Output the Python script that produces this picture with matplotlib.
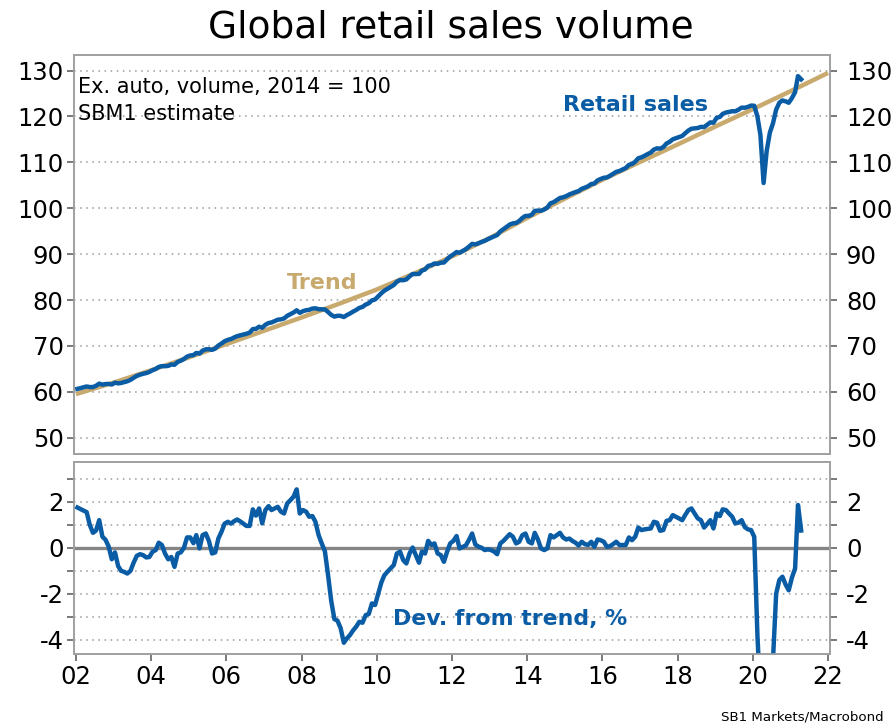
import matplotlib
matplotlib.use('Agg')
import matplotlib.pyplot as plt
import matplotlib.dates as mdates
import numpy as np
import pandas as pd

# ---------------- data ----------------
trend_years = list(range(2002, 2023))
trend_values = [59.5, 62.0, 64.7, 67.5, 70.4, 73.3, 76.2, 79.2, 82.3, 85.8, 89.5,
                93.5, 97.9, 102.1, 106.2, 110.1, 113.9, 117.8, 121.6, 125.5, 129.5]

# monthly, Jan 2002 .. Apr 2021
retail_sales = [
    60.64, 60.81, 60.99, 61.16, 61.04, 61.04, 61.31, 61.79, 61.56, 61.70, 61.72, 61.59,
    61.99, 61.84, 61.93, 62.13, 62.30, 62.61, 63.05, 63.47, 63.73, 63.93, 64.09, 64.33,
    64.71, 64.98, 65.42, 65.60, 65.59, 65.65, 65.96, 65.90, 66.51, 66.78, 67.15, 67.68,
    67.92, 68.00, 68.47, 68.33, 68.97, 69.26, 69.28, 69.14, 69.42, 70.08, 70.53, 71.02,
    71.32, 71.50, 71.82, 72.13, 72.31, 72.48, 72.65, 72.90, 73.67, 73.72, 74.19, 73.96,
    74.62, 74.99, 75.11, 75.42, 75.71, 75.80, 75.99, 76.56, 76.92, 77.28, 77.77, 77.21,
    77.58, 77.78, 77.87, 78.14, 78.20, 78.01, 77.98, 77.96, 77.39, 76.77, 76.39, 76.57,
    76.55, 76.30, 76.70, 77.06, 77.47, 77.85, 78.28, 78.50, 79.01, 79.30, 79.93, 80.12,
    80.80, 81.50, 82.03, 82.45, 82.87, 83.28, 83.99, 84.35, 84.32, 84.49, 85.16, 85.67,
    85.67, 85.70, 86.42, 86.66, 87.44, 87.59, 87.97, 87.89, 88.14, 88.18, 88.88, 89.51,
    89.94, 90.46, 90.30, 90.71, 91.09, 91.65, 92.24, 92.13, 92.38, 92.67, 92.91, 93.26,
    93.59, 93.89, 94.16, 94.96, 95.44, 95.95, 96.45, 96.71, 96.80, 97.23, 97.89, 98.33,
    98.34, 98.62, 99.42, 99.49, 99.45, 99.73, 100.15, 101.08, 101.33, 101.79, 102.24, 102.39,
    102.64, 103.02, 103.26, 103.53, 103.74, 104.25, 104.49, 104.79, 105.28, 105.39, 106.07, 106.38,
    106.64, 106.73, 107.08, 107.51, 107.94, 108.12, 108.44, 108.77, 109.45, 109.65, 110.14, 110.91,
    111.11, 111.45, 111.80, 112.14, 112.78, 113.06, 112.99, 113.34, 114.11, 114.47, 115.03, 115.28,
    115.52, 115.76, 116.34, 116.93, 117.33, 117.41, 117.49, 117.74, 117.69, 118.20, 118.72, 118.63,
    119.72, 119.90, 120.57, 120.86, 121.00, 121.15, 121.13, 121.48, 121.94, 121.90, 122.09, 122.38,
    122.34, 120.0, 116.0, 105.5, 112.5, 116.5, 118.5, 121.5, 123.0, 123.5, 123.3, 123.0,
    124.0, 125.3, 128.8, 128.1]

dev_from_trend = [
    1.75, 1.68, 1.62, 1.55, 1.0, 0.65, 0.75, 1.2, 0.48, 0.35, 0.05, -0.5,
    -0.2, -0.8, -1.0, -1.05, -1.12, -1.0, -0.65, -0.35, -0.28, -0.32, -0.42, -0.4,
    -0.17, -0.1, 0.22, 0.12, -0.25, -0.5, -0.4, -0.83, -0.25, -0.2, 0.0, 0.45,
    0.45, 0.2, 0.55, -0.03, 0.55, 0.62, 0.3, -0.25, -0.2, 0.4, 0.7, 1.05,
    1.13, 1.05, 1.15, 1.23, 1.15, 1.05, 0.95, 0.95, 1.67, 1.4, 1.71, 1.06,
    1.64, 1.81, 1.64, 1.71, 1.78, 1.57, 1.49, 1.93, 2.07, 2.22, 2.54, 1.49,
    1.64, 1.57, 1.35, 1.38, 1.13, 0.55, 0.19, -0.15, -1.2, -2.3, -3.1, -3.17,
    -3.5, -4.13, -3.95, -3.8, -3.6, -3.43, -3.22, -3.26, -2.93, -2.88, -2.42, -2.49,
    -2.0, -1.5, -1.2, -1.04, -0.9, -0.75, -0.25, -0.17, -0.54, -0.68, -0.25, 0.01,
    -0.32, -0.65, -0.17, -0.25, 0.3, 0.12, 0.19, -0.25, -0.32, -0.61, -0.17, 0.19,
    0.3, 0.51, -0.03, 0.04, 0.1, 0.35, 0.62, 0.14, 0.05, 0.0, -0.1, -0.07,
    -0.1, -0.17, -0.28, 0.19, 0.3, 0.45, 0.59, 0.48, 0.19, 0.26, 0.55, 0.62,
    0.26, 0.19, 0.65, 0.36, -0.03, -0.1, -0.03, 0.55, 0.45, 0.55, 0.65, 0.45,
    0.36, 0.4, 0.3, 0.22, 0.1, 0.26, 0.16, 0.12, 0.26, 0.04, 0.36, 0.33,
    0.26, 0.04, 0.07, 0.16, 0.26, 0.12, 0.12, 0.12, 0.45, 0.33, 0.48, 0.88,
    0.77, 0.8, 0.82, 0.84, 1.13, 1.09, 0.74, 0.77, 1.17, 1.2, 1.42, 1.35,
    1.28, 1.2, 1.42, 1.64, 1.71, 1.49, 1.28, 1.2, 0.88, 1.03, 1.2, 0.84,
    1.49, 1.38, 1.67, 1.64, 1.49, 1.35, 1.06, 1.09, 1.2, 0.9, 0.8, 0.77,
    0.48, -3.8, -6.5, -14.0, -9.0, -6.0, -4.9, -2.0, -1.4, -1.26, -1.6, -1.85,
    -1.3, -0.9, 1.86, 0.75]

top_ticks = [50, 60, 70, 80, 90, 100, 110, 120, 130]
bottom_major = [-4, -2, 0, 2]
bottom_minor = [-3, -1, 1, 3]

# ---------------- style ----------------
BLUE = '#0a5ca5'
TAN = '#c8a96e'
GRID = '#9a9a9a'
SPINE = '#a0a0a0'
ZERO = '#858585'

plt.rcParams['font.family'] = ['DejaVu Sans']
plt.rcParams['axes.unicode_minus'] = False

months = pd.date_range('2002-01-01', periods=len(retail_sales), freq='MS') + pd.Timedelta(days=14)
trend_dates = pd.to_datetime([f'{y}-01-01' for y in trend_years])
xlim = (pd.Timestamp('2001-12-13'), pd.Timestamp('2022-01-20'))

fig = plt.figure(figsize=(8.92, 7.24), dpi=100)
W, H = 892, 724
ax1 = fig.add_axes([74 / W, 1 - 454 / H, 756 / W, 399 / H])
ax2 = fig.add_axes([74 / W, 1 - 654 / H, 756 / W, 192 / H])

LBL = 17.5


def style_axis(ax, ylim, major, minor=None):
    ax.set_xlim(*xlim)
    ax.set_ylim(*ylim)
    for s in ax.spines.values():
        s.set_color(SPINE)
        s.set_linewidth(1.2)
    ax.set_yticks(major)
    if minor:
        ax.set_yticks(minor, minor=True)
    ax.tick_params(axis='y', which='both', direction='out', length=5, width=1.1,
                   color='#555555', labelsize=LBL, pad=2.5, left=True, right=False)
    twin = ax.twinx()
    twin.set_ylim(*ylim)
    twin.set_yticks(major)
    if minor:
        twin.set_yticks(minor, minor=True)
    twin.tick_params(axis='y', which='both', direction='out', length=5, width=1.1,
                     color='#555555', labelsize=LBL, pad=6.5)
    for s in twin.spines.values():
        s.set_color(SPINE)
        s.set_linewidth(1.2)
    return twin


# ---------------- top panel ----------------
t1 = style_axis(ax1, (46.45, 133.4), top_ticks)
for v in top_ticks:
    ax1.axhline(v, ls=(0, (1, 3)), color=GRID, lw=1.1, zorder=0)
ax1.plot(trend_dates, trend_values, color=TAN, lw=3.2, zorder=2, solid_capstyle='butt')
ax1.plot(months, retail_sales, color=BLUE, lw=3.2, zorder=3, solid_joinstyle='round')
ax1.tick_params(axis='x', which='both', bottom=False, labelbottom=False)
t1.tick_params(axis='x', which='both', bottom=False, labelbottom=False)

ax1.text(pd.Timestamp('2002-01-20'), 125.2, 'Ex. auto, volume, 2014 = 100',
         fontsize=15, color='black', ha='left', va='baseline')
ax1.text(pd.Timestamp('2002-01-20'), 119.3, 'SBM1 estimate',
         fontsize=15, color='black', ha='left', va='baseline')
ax1.text(pd.Timestamp('2016-11-15'), 121.1, 'Retail sales', fontsize=16,
         fontweight='bold', color=BLUE, ha='center', va='baseline')
ax1.text(pd.Timestamp('2008-07-20'), 82.4, 'Trend', fontsize=16,
         fontweight='bold', color=TAN, ha='center', va='baseline')

# ---------------- bottom panel ----------------
t2 = style_axis(ax2, (-4.62, 3.73), bottom_major, bottom_minor)
for v in bottom_major + bottom_minor:
    if v != 0:
        ax2.axhline(v, ls=(0, (1, 3)), color=GRID, lw=1.1, zorder=0)
ax2.axhline(0, color=ZERO, lw=2.4, zorder=1)
ax2.plot(months, dev_from_trend, color=BLUE, lw=3.2, zorder=3, solid_joinstyle='round')

ax2.xaxis.set_major_locator(mdates.YearLocator(2))
ax2.xaxis.set_major_formatter(mdates.DateFormatter('%y'))
ax2.tick_params(axis='x', which='both', direction='out', length=5, width=1.1,
                color='#555555', labelsize=LBL, pad=3)
t2.tick_params(axis='x', which='both', bottom=False)

ax2.text(pd.Timestamp('2013-07-20'), -3.36, 'Dev. from trend, %', fontsize=15.8,
         fontweight='bold', color=BLUE, ha='center', va='baseline')

# ---------------- titles ----------------
fig.text(451 / W, 1 - 27 / H, 'Global retail sales volume', fontsize=27,
         ha='center', va='center', color='black')
fig.text(884 / W, 1 - 717 / H, 'SB1 Markets/Macrobond', fontsize=9.6,
         ha='right', va='center', color='black')

fig.savefig('out.png', dpi=100)
